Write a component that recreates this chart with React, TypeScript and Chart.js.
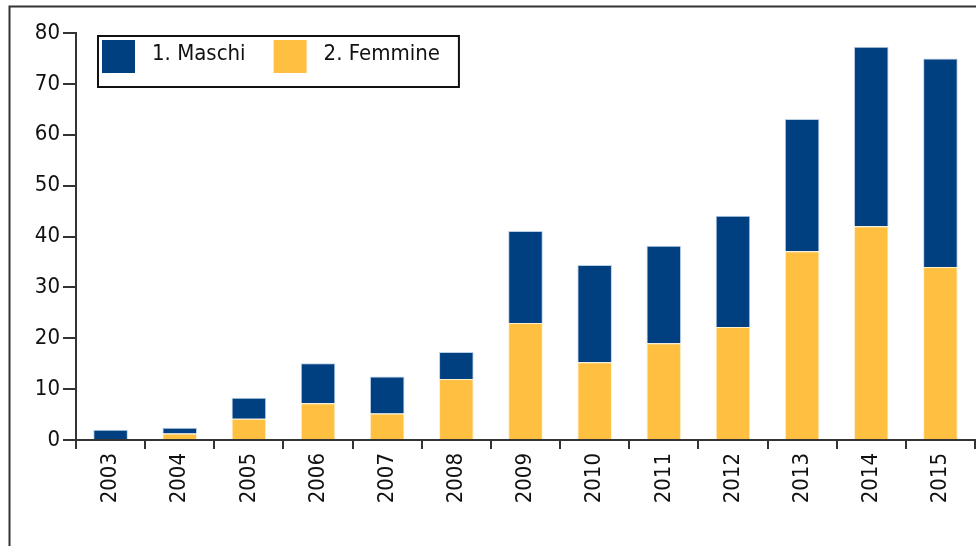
import React, { useEffect, useRef } from "react";
import { Chart, registerables } from "chart.js";

Chart.register(...registerables);

const categories = ["2003", "2004", "2005", "2006", "2007", "2008", "2009", "2010", "2011", "2012", "2013", "2014", "2015"];
const femmine = [0, 1.3, 4.2, 7.2, 5.2, 12, 23, 15.3, 19, 22.2, 37.1, 42, 34];
const maschi = [2, 1.1, 4.1, 7.9, 7.3, 5.3, 18.1, 19.1, 19.2, 21.9, 26, 35.3, 41];
const yTicks = { min: 0, max: 80, step: 10 };

const BLUE = "#003f80";
const YELLOW = "#ffc041";
const FONT = "'DejaVu Sans Condensed', 'DejaVu Sans', sans-serif";
const FONT_SIZE = 22;

const framePlugin = {
  id: "frame",
  beforeDraw(chart: any) {
    const ctx = chart.ctx;
    ctx.save();
    ctx.fillStyle = "#fff";
    ctx.fillRect(0, 0, chart.width, chart.height);
    ctx.strokeStyle = "#333";
    ctx.lineWidth = 2;
    ctx.strokeRect(9.5, 6.5, chart.width + 100, chart.height + 100);
    ctx.restore();
  },
};

const boxLegendPlugin = {
  id: "boxLegend",
  afterDraw(chart: any) {
    const ctx = chart.ctx;
    const area = chart.chartArea;
    const ds = [...chart.data.datasets].reverse();
    ctx.save();
    ctx.font = `${FONT_SIZE}px ${FONT}`;
    const x0 = area.left + 22;
    const y0 = area.top + 3;
    const sq = 33;
    const inner = 4;
    const gapText = 17;
    const gapItem = 28;
    let x = x0 + inner;
    const items: any[] = [];
    ds.forEach((d: any, i: number) => {
      const w = ctx.measureText(d.label).width;
      items.push({ x, w, d });
      x += sq + gapText + w + (i < ds.length - 1 ? gapItem : 0);
    });
    const boxW = x - x0 + 19;
    const boxH = 51;
    ctx.fillStyle = "#fff";
    ctx.fillRect(x0, y0, boxW, boxH);
    ctx.strokeStyle = "#111";
    ctx.lineWidth = 2;
    ctx.strokeRect(x0, y0, boxW, boxH);
    items.forEach((it) => {
      ctx.fillStyle = it.d.backgroundColor;
      ctx.fillRect(it.x, y0 + inner, sq, sq);
      ctx.fillStyle = "#111";
      ctx.textBaseline = "middle";
      ctx.textAlign = "left";
      ctx.fillText(it.d.label, it.x + sq + gapText, y0 + inner + sq / 2 - 2);
    });
    ctx.restore();
  },
};

export default function App() {
  const ref = useRef<HTMLCanvasElement>(null);
  useEffect(() => {
    if (!ref.current) return;
    const chart = new Chart(ref.current, {
      type: "bar",
      data: {
        labels: categories,
        datasets: [
          {
            label: "2. Femmine",
            data: femmine,
            backgroundColor: YELLOW,
            borderColor: "rgba(255,235,190,0.8)",
            borderWidth: 1,
            categoryPercentage: 1,
            barPercentage: 0.5,
          },
          {
            label: "1. Maschi",
            data: maschi,
            backgroundColor: BLUE,
            borderColor: "rgba(170,195,225,0.8)",
            borderWidth: 1,
            categoryPercentage: 1,
            barPercentage: 0.5,
          },
        ],
      },
      options: {
        responsive: false,
        animation: false,
        layout: { padding: { left: 0, top: 33, right: 1, bottom: 0 } },
        plugins: { legend: { display: false }, tooltip: { enabled: false } },
        scales: {
          x: {
            stacked: true,
            offset: true,
            grid: { display: true, drawOnChartArea: false, offset: true, tickLength: 9, color: "#333", lineWidth: 2 },
            border: { color: "#333", width: 2 },
            ticks: { minRotation: 90, maxRotation: 90, autoSkip: false, padding: 4, color: "#111", font: { family: FONT, size: FONT_SIZE } },
            afterFit: (s: any) => { s.height = 106; },
          },
          y: {
            stacked: true,
            min: yTicks.min,
            max: yTicks.max,
            grid: { display: true, drawOnChartArea: false, tickLength: 13, color: "#333", lineWidth: 2 },
            border: { color: "#333", width: 2 },
            ticks: { stepSize: yTicks.step, padding: 3, color: "#111", font: { family: FONT, size: FONT_SIZE } },
            afterFit: (s: any) => { s.width = 76; },
          },
        },
      },
      plugins: [framePlugin, boxLegendPlugin],
    });
    return () => chart.destroy();
  }, []);
  return (
    <div style={{ position: "fixed", left: 0, top: 0, width: 976, height: 546, background: "#fff" }}>
      <canvas ref={ref} width={976} height={546} style={{ width: 976, height: 546, display: "block" }} />
    </div>
  );
}
